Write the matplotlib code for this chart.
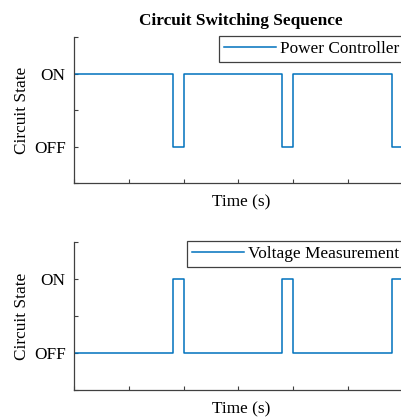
import matplotlib.pyplot as plt

# switching instants (s) and the state held from each one onward
edges = [0.0, 1.8, 2.0, 3.8, 4.0, 5.8, 6.0, 6.1]
power_state = [1, 0, 1, 0, 1, 0, 1, 1]
voltage_state = [0, 1, 0, 1, 0, 1, 0, 0]

state_ticks = [-0.5, 0, 0.5, 1, 1.5]
state_labels = ["", "OFF", "", "ON", ""]
time_ticks = [0, 1, 2, 3, 4, 5, 6]

plt.rcParams["font.family"] = ["Liberation Serif", "DejaVu Serif"]
plt.rcParams["font.size"] = 12.4

blue = "#0072BD"
axcol = "0.25"

fig = plt.figure(figsize=(4.01, 4.17), dpi=100)
W, H = 401.0, 417.0
left = 74 / W
width = (408 - 74) / W

def setup(ax, leg_x):
    ax.set_xlim(0, 6.1)
    ax.set_ylim(-0.5, 1.5)
    ax.set_yticks(state_ticks)
    ax.set_yticklabels(state_labels)
    ax.set_xticks(time_ticks)
    ax.set_xticklabels([])
    ax.tick_params(direction="in", length=3, width=0.8, color=axcol, pad=6)
    for s in ["top", "right"]:
        ax.spines[s].set_visible(False)
    for s in ["left", "bottom"]:
        ax.spines[s].set_color(axcol)
        ax.spines[s].set_linewidth(0.9)
    ax.set_xlabel("Time (s)", labelpad=2.5)
    ax.set_ylabel("Circuit State", labelpad=3)
    leg = ax.legend(loc="upper left", bbox_to_anchor=(leg_x, 1.008), borderaxespad=0,
                    fancybox=False, framealpha=1, handlelength=3.0,
                    handletextpad=0.25, borderpad=0.3)
    leg.get_frame().set_edgecolor(axcol)
    leg.get_frame().set_linewidth(0.9)

ax1 = fig.add_axes([left, (H - 183) / H, width, 146 / H])
ax1.plot(edges, power_state, drawstyle="steps-post", color=blue, lw=1.1,
         label="Power Controller")
setup(ax1, (219 - 74) / 334)
ax1.set_title("Circuit Switching Sequence", fontweight="bold", fontsize=12.4, pad=9)

ax2 = fig.add_axes([left, (H - 390) / H, width, 148 / H])
ax2.plot(edges, voltage_state, drawstyle="steps-post", color=blue, lw=1.1,
         label="Voltage Measurement")
setup(ax2, (187 - 74) / 334)

fig.savefig("out.png", dpi=100)
